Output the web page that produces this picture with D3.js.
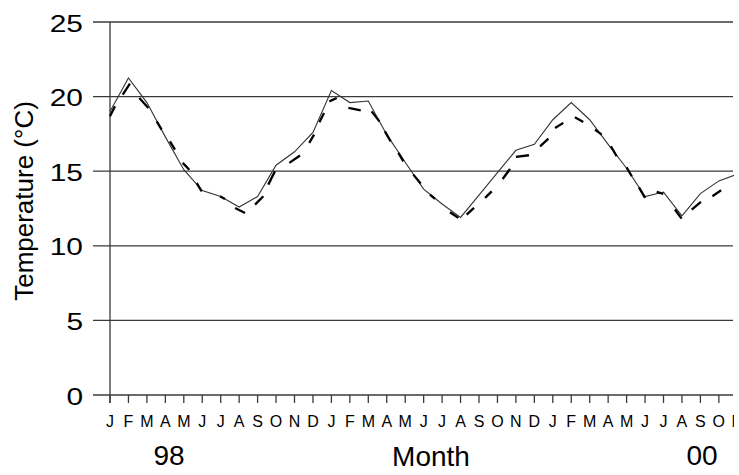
<!DOCTYPE html>
<html>
<head>
<meta charset="utf-8">
<script src="https://cdn.jsdelivr.net/npm/d3@7"></script>
<style>
  html, body { margin: 0; padding: 0; background: #fff; }
  svg { display: block; font-family: "Liberation Sans", Arial, sans-serif; }
</style>
</head>
<body>
<svg id="chart" width="739" height="475"></svg>
<script>
// ---- data ----
const monthLetters = ["J","F","M","A","M","J","J","A","S","O","N","D",
                      "J","F","M","A","M","J","J","A","S","O","N","D",
                      "J","F","M","A","M","J","J","A","S","O","N"];
// monthly mean temperature (line), Jan 98 .. Nov 00
const monthlyTemp = [19.0, 21.25, 19.6, 17.3, 15.1, 13.7, 13.3, 12.6, 13.3, 15.4, 16.3, 17.6,
                     20.4, 19.6, 19.7, 17.45, 15.6, 13.8, 12.8, 11.9, 13.4, 14.9, 16.4, 16.8,
                     18.45, 19.6, 18.45, 16.8, 15.2, 13.3, 13.6, 12.0, 13.5, 14.35, 14.8];
// observation runs: [startMonthPos, startTemp, endMonthPos, endTemp]
const obsSegments = [
  [0.00,18.68,0.27,19.35],[0.69,20.13,1.08,20.87],[1.59,19.91,2.08,19.24],
  [2.53,18.34,2.80,17.79],[3.25,17.00,3.52,16.45],[3.94,15.56,4.30,15.10],
  [4.70,14.20,4.97,13.65],[5.96,13.32,6.23,13.14],[6.78,12.54,7.32,12.20],
  [7.86,12.76,8.31,13.32],[8.58,14.10,8.94,14.99],[9.72,15.56,10.30,16.05],
  [10.80,16.90,11.06,17.45],[11.35,18.28,11.60,18.90],[11.89,19.68,12.29,19.91],
  [12.92,19.24,13.59,19.08],[14.18,19.01,14.60,18.34],[14.90,17.67,15.21,17.00],
  [15.63,16.23,15.90,15.66],[16.44,14.77,16.84,14.17],[17.34,13.43,17.62,13.14],
  [18.43,12.25,18.88,11.87],[19.33,12.09,19.73,12.54],[20.33,13.21,20.69,13.65],
  [21.28,14.48,21.68,15.15],[22.00,15.96,22.71,16.07],[23.31,16.67,23.76,17.18],
  [24.12,17.90,24.57,18.24],[25.20,18.61,25.65,18.30],[26.29,17.79,26.65,17.45],
  [27.15,16.67,27.46,16.00],[28.00,15.26,28.28,14.66],[28.67,13.92,29.00,13.21],
  [29.63,13.61,29.99,13.48],[30.62,12.43,30.98,11.82],[31.53,12.43,32.03,12.94],
  [32.65,13.32,33.12,13.72]
];
const yTicks = [0, 5, 10, 15, 20, 25];
const yearLabels = [{text: "98", x: 169}, {text: "00", x: 702}];
const xTitle = "Month";
const yTitle = "Temperature (°C)";

// ---- layout ----
const plotLeft = 110, plotRight = 733, plotTop = 22, plotBottom = 395;
const svg = d3.select("#chart");

const x = d3.scaleLinear().domain([0, 34]).range([plotLeft, plotLeft + 34 * 18.45]);
const y = d3.scaleLinear().domain([0, 25]).range([plotBottom, plotTop]);

svg.append("defs").append("clipPath").attr("id", "plotclip")
  .append("rect").attr("x", 0).attr("y", 0).attr("width", plotRight + 1).attr("height", 475);

// gridlines + left ticks
svg.append("g").selectAll("line").data(yTicks).join("line")
  .attr("x1", plotLeft - 17).attr("x2", plotRight)
  .attr("y1", d => y(d)).attr("y2", d => y(d))
  .attr("stroke", "#3a3a3a").attr("stroke-width", 1.3);

// y axis line
svg.append("line").attr("x1", plotLeft).attr("x2", plotLeft).attr("y1", plotTop).attr("y2", plotBottom + 8)
  .attr("stroke", "#3a3a3a").attr("stroke-width", 1.3);

// y tick labels
svg.append("g").selectAll("text").data(yTicks).join("text")
  .attr("transform", d => `translate(83,${y(d)}) scale(1.3,1)`)
  .attr("text-anchor", "end").attr("dy", "0.42em")
  .attr("font-size", 23).attr("fill", "#000")
  .text(d => d);

// x ticks
const tickIdx = d3.range(0, 34).filter(i => x(i) <= plotRight);
svg.append("g").selectAll("line").data(tickIdx).join("line")
  .attr("x1", d => x(d)).attr("x2", d => x(d))
  .attr("y1", plotBottom).attr("y2", plotBottom + 8)
  .attr("stroke", "#3a3a3a").attr("stroke-width", 1.3);

// x month labels (last one is cut at the plot edge, as in the original)
svg.append("g").attr("clip-path", "url(#plotclip)")
  .selectAll("text").data(monthLetters).join("text")
  .attr("x", (d, i) => x(i)).attr("y", 427)
  .attr("text-anchor", "middle").attr("font-size", 16).attr("fill", "#000")
  .text(d => d);

// year labels and axis title
svg.append("g").selectAll("text").data(yearLabels).join("text")
  .attr("x", d => d.x).attr("y", 465).attr("text-anchor", "middle")
  .attr("font-size", 28).attr("fill", "#000").text(d => d.text);
svg.append("text").attr("x", 431).attr("y", 466).attr("text-anchor", "middle")
  .attr("font-size", 28).attr("fill", "#000").text(xTitle);

svg.append("text").attr("transform", "translate(33,201) rotate(-90)")
  .attr("text-anchor", "middle").attr("font-size", 26).attr("fill", "#000").text(yTitle);

// plot content (clipped at right edge)
const plot = svg.append("g").attr("clip-path", "url(#plotclip)");

plot.append("path").datum(monthlyTemp)
  .attr("d", d3.line().x((d, i) => x(i)).y(d => y(d)))
  .attr("fill", "none").attr("stroke", "#333").attr("stroke-width", 1.1);

plot.append("g").selectAll("line").data(obsSegments).join("line")
  .attr("x1", d => x(d[0])).attr("y1", d => y(d[1]))
  .attr("x2", d => x(d[2])).attr("y2", d => y(d[3]))
  .attr("stroke", "#000").attr("stroke-width", 2.3);
</script>
</body>
</html>
